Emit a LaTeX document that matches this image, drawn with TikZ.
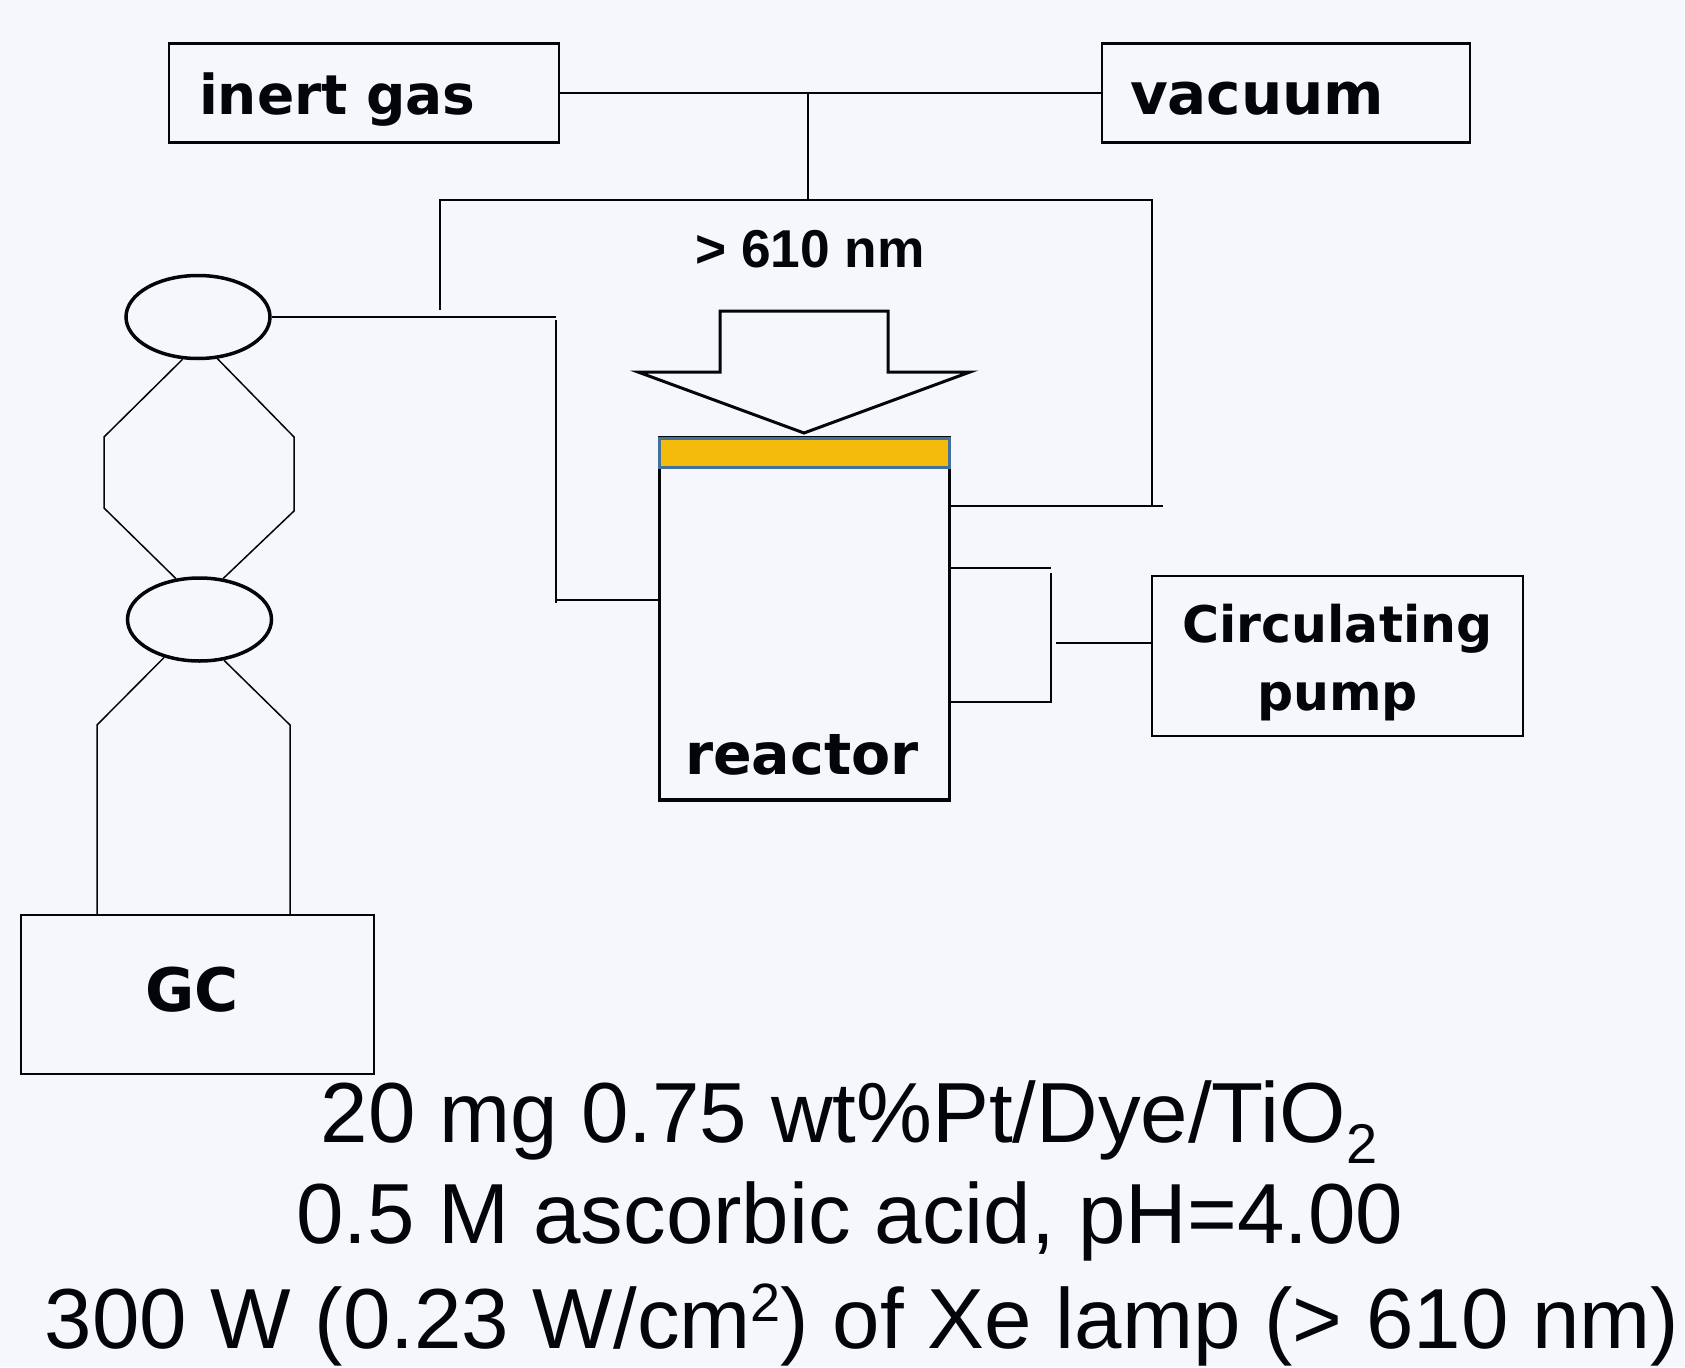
\documentclass[tikz,border=0pt]{standalone}
\usepackage{fontspec}
\setmainfont{Liberation Sans}
\newfontfamily\boxfont{DejaVu Sans}[BoldFont={DejaVu Sans Bold}]
\usetikzlibrary{shapes.geometric}
\definecolor{paper}{HTML}{F5F7FC}
\definecolor{ink}{HTML}{040508}
\definecolor{lidfill}{HTML}{F4BB0A}
\definecolor{lidedge}{HTML}{41719C}
\newcommand{\lowtwo}{\raisebox{-21pt}{\fontsize{56}{60}\selectfont 2}}
\newcommand{\hightwo}{\raisebox{27pt}{\fontsize{54}{60}\selectfont 2}}
\tikzset{
  pipe/.style={draw=ink,line width=1.5pt},
  boxnode/.style={draw=ink,line width=2.5pt,rectangle,inner ysep=0pt,text=ink,align=left,
    font=\boxfont\fontsize{54}{70}\selectfont\bfseries},
  valve/.style={draw=ink,line width=3.5pt,ellipse,inner sep=0pt,minimum width=144pt,minimum height=83pt},
  bigtext/.style={anchor=base,text=ink,inner sep=0pt,font=\fontsize{85.3}{100}\selectfont}
}
\begin{document}
\begin{tikzpicture}[x=1pt,y=-1pt]
\path [fill=paper] (0,0) rectangle (1685,1367);
\useasboundingbox (0,0) rectangle (1685,1367);

% boxes
\node [boxnode,font=\boxfont\fontsize{55}{70}\selectfont\bfseries,inner xsep=30pt,text width=330pt,minimum height=99pt,text height=56pt,text depth=12pt] (inert) at (364,93) {inert gas};
\node [boxnode,font=\boxfont\fontsize{58}{70}\selectfont\bfseries,inner xsep=28pt,text width=312pt,minimum height=99pt,text height=56pt,text depth=12pt] (vacuum) at (1286,93) {vacuum};
\node [boxnode,font=\boxfont\fontsize{50.5}{68}\selectfont\bfseries,align=center,inner xsep=0pt,text width=371pt,minimum height=160pt,text height=51pt] (pump) at (1337.5,656) {Circulating\\pump};
\node [boxnode,font=\boxfont\fontsize{60}{70}\selectfont\bfseries,inner xsep=124pt,text width=105pt,minimum height=159pt,text height=47pt,text depth=14pt] (gc) at (197.5,994.5) {GC};
\node [boxnode,line width=3.5pt,minimum width=290pt,minimum height=362pt,inner sep=0pt] (reactor) at (804.5,619) {};
\node [text=ink,inner sep=0pt,font=\boxfont\fontsize{57}{70}\selectfont\bfseries] (reactorname) at (802,755) {reactor};
\node [draw=lidedge,fill=lidfill,line width=3pt,rectangle,inner sep=0pt,minimum width=290pt,minimum height=29pt] (lid) at (804.5,452.5) {};

% valves
\node [valve] (valveone) at (198,317) {};
\node [valve] (valvetwo) at (199.5,619.5) {};

% light arrow
\node [text=ink,inner sep=0pt,font=\fontsize{53.3}{60}\selectfont\bfseries] (wavelength) at (810,249) {> 610 nm};
\draw [draw=ink,line width=3pt,miter limit=20] (720,311) -- (888,311) -- (888,372) -- (970,372) -- (804,433) -- (638,372) -- (720,372) -- cycle;

% free ends of the pipes
\coordinate (junctop) at (808,93);
\coordinate (junclow) at (808,200);
\coordinate (leftcorner) at (440,200);
\coordinate (leftend) at (440,310);
\coordinate (rightcorner) at (1152,200);
\coordinate (rightfoot) at (1152,506);
\coordinate (rightend) at (1163,506);
\coordinate (topend) at (556,317);
\coordinate (downstart) at (556,320);
\coordinate (downend) at (556,603);
\coordinate (downin) at (556,600);
\coordinate (pumpa) at (1051,568);
\coordinate (pumpb) at (1051,573);
\coordinate (pumpc) at (1051,702);
\coordinate (pumpd) at (1056,643);

% gas lines
\draw [pipe] (inert.east |- junctop) -- (vacuum.west |- junctop);
\draw [pipe] (junctop) -- (junclow);
\draw [pipe] (leftend) -- (leftcorner) -- (rightcorner) -- (rightfoot);
\draw [pipe] (reactor.east |- rightend) -- (rightend);
\draw [pipe] (valveone.east) -- (topend);
\draw [pipe] (downstart) -- (downend);
\draw [pipe] (downin) -- (reactor.west |- downin);

% pump lines
\draw [pipe] (reactor.east |- pumpa) -- (pumpa);
\draw [pipe] (pumpb) -- (pumpc) -- (reactor.east |- pumpc);
\draw [pipe] (pumpd) -- (pump.west |- pumpd);

% sampling loop
\coordinate (loopa) at (104,437);
\coordinate (loopb) at (104,508);
\coordinate (loopc) at (294,437);
\coordinate (loopd) at (294,511);
\draw [pipe] (valveone.250) -- (loopa) -- (loopb) -- (valvetwo.120);
\draw [pipe] (valveone.295) -- (loopc) -- (loopd) -- (valvetwo.60);

% lines to the gc
\coordinate (gca) at (97,725);
\coordinate (gcb) at (290,725);
\draw [pipe] (valvetwo.227) -- (gca) -- (gca |- gc.north);
\draw [pipe] (valvetwo.301) -- (gcb) -- (gcb |- gc.north);

% conditions
\node [bigtext] (lineone) at (849,1142) {20 mg 0.75 wt\%Pt/Dye/TiO\lowtwo};
\node [bigtext] (linetwo) at (850,1243) {0.5 M ascorbic acid, pH=4.00};
\node [bigtext] (linethree) at (862,1348) {300 W (0.23 W/cm\hightwo) of Xe lamp (> 610 nm)};
\end{tikzpicture}
\end{document}
